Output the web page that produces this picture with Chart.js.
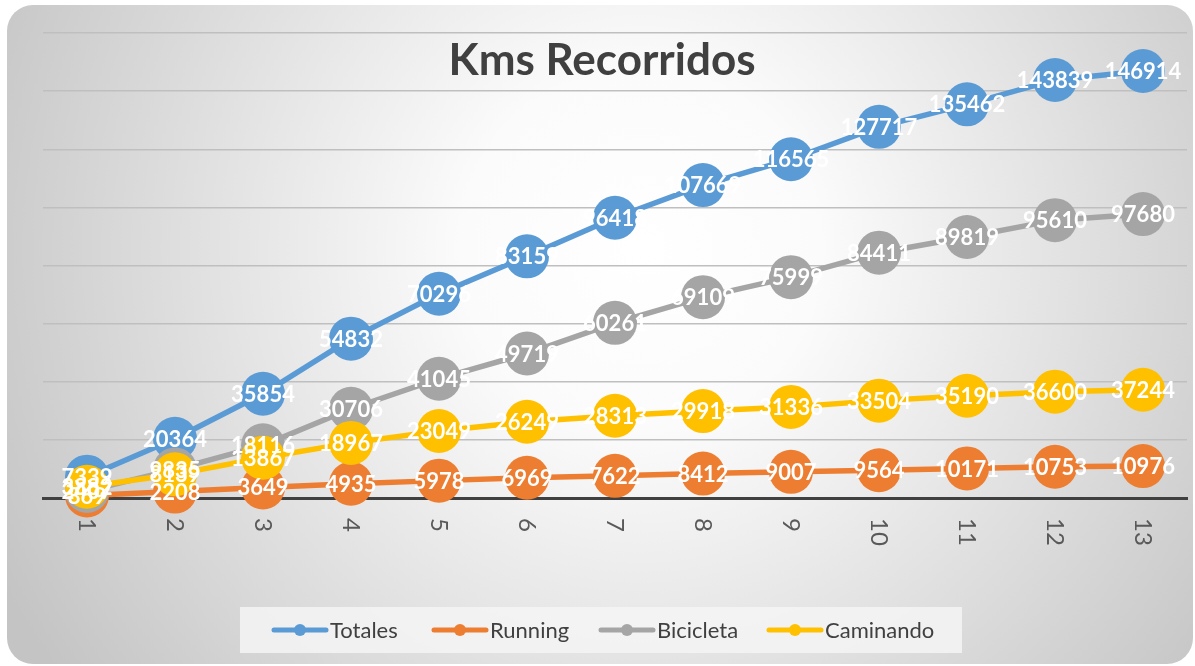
<!DOCTYPE html>
<html>
<head>
<meta charset="utf-8">
<script src="https://cdn.jsdelivr.net/npm/chart.js@4"></script>
<style>
  html, body { margin: 0; padding: 0; background: #fff; }
  #wrap { width: 1195px; height: 666px; position: relative; }
</style>
</head>
<body>
<div id="wrap"><canvas id="chart" width="1195" height="666"></canvas></div>
<script>
const labels = ["1","2","3","4","5","6","7","8","9","10","11","12","13"];
const totales   = [7339, 20364, 35854, 54832, 70296, 83159, 96418, 107669, 116565, 127717, 135462, 143839, 146914];
const running   = [869, 2208, 3649, 4935, 5978, 6969, 7622, 8412, 9007, 9564, 10171, 10753, 10976];
const bicicleta = [2407, 9835, 18116, 30706, 41045, 49719, 60261, 69109, 75999, 84411, 89819, 95610, 97680];
const caminando = [3882, 8139, 13867, 18967, 23049, 26249, 28313, 29918, 31336, 33504, 35190, 36600, 37244];
const seriesNames = ["Totales", "Running", "Bicicleta", "Caminando"];
const colors = ["#5b9bd5", "#ed7d31", "#a5a5a5", "#ffc000"];
const title = "Kms Recorridos";

// background, title, rotated tick labels, value labels and legend
const decor = {
  id: "decor",
  beforeDraw(chart) {
    const ctx = chart.ctx;
    ctx.save();
    ctx.fillStyle = "#fff";
    ctx.fillRect(0, 0, chart.width, chart.height);
    const g = ctx.createRadialGradient(640, 250, 0, 640, 250, 720);
    g.addColorStop(0, "#ffffff");
    g.addColorStop(0.25, "#fbfbfb");
    g.addColorStop(1, "#c4c4c4");
    ctx.beginPath();
    ctx.roundRect(7, 5, 1186, 659, 26);
    ctx.fillStyle = g;
    ctx.fill();
    ctx.restore();
  },
  beforeDatasetsDraw(chart) {
    const ctx = chart.ctx;
    ctx.save();
    ctx.font = "bold 44px Lato";
    ctx.fillStyle = "#404040";
    ctx.textAlign = "center";
    ctx.textBaseline = "alphabetic";
    ctx.fillText(title, 602, 75);
    // x tick labels, rotated clockwise
    const xs = chart.scales.x;
    ctx.font = "24px Lato";
    ctx.fillStyle = "#595959";
    ctx.textAlign = "left";
    ctx.textBaseline = "middle";
    xs.ticks.forEach((t, i) => {
      const x = xs.getPixelForTick(i);
      ctx.save();
      ctx.translate(x, 518);
      ctx.rotate(Math.PI / 2);
      ctx.fillText(labels[i], 0, 0);
      ctx.restore();
    });
    ctx.restore();
  },
  afterDatasetsDraw(chart) {
    const ctx = chart.ctx;
    ctx.save();
    ctx.font = "bold 22px Lato";
    ctx.fillStyle = "#fff";
    ctx.textAlign = "center";
    ctx.textBaseline = "middle";
    chart.data.datasets.forEach((ds, di) => {
      const meta = chart.getDatasetMeta(di);
      meta.data.forEach((pt, i) => {
        ctx.fillText(String(ds.data[i]), pt.x, pt.y + 1);
      });
    });
    // legend
    ctx.fillStyle = "rgba(244,244,244,0.85)";
    ctx.fillRect(240, 607, 722, 46);
    ctx.font = "22px Lato";
    ctx.textAlign = "left";
    const starts = [272, 432, 599, 767];
    chart.data.datasets.forEach((ds, di) => {
      const x0 = starts[di], y = 630;
      ctx.strokeStyle = ds.borderColor;
      ctx.lineWidth = 5;
      ctx.lineCap = "round";
      ctx.beginPath();
      ctx.moveTo(x0 + 2, y);
      ctx.lineTo(x0 + 54, y);
      ctx.stroke();
      ctx.fillStyle = ds.borderColor;
      ctx.beginPath();
      ctx.arc(x0 + 28, y, 6, 0, Math.PI * 2);
      ctx.fill();
      ctx.fillStyle = "#404040";
      ctx.fillText(ds.label, x0 + 58, y + 1);
    });
    ctx.restore();
  }
};

const seriesData = [totales, running, bicicleta, caminando];
const datasets = seriesData.map((d, i) => ({
  label: seriesNames[i],
  data: d,
  borderColor: colors[i],
  backgroundColor: colors[i],
  pointBackgroundColor: colors[i],
  pointBorderColor: colors[i],
  borderWidth: 5.5,
  pointRadius: 22,
  pointHoverRadius: 22,
  pointBorderWidth: 0,
  tension: 0,
  clip: false,
  order: 4 - i
}));

new Chart(document.getElementById("chart"), {
  type: "line",
  data: { labels: labels, datasets: datasets },
  options: {
    responsive: false,
    animation: false,
    events: [],
    layout: { autoPadding: false, padding: { left: 43, right: 8, top: 33, bottom: 160 } },
    plugins: {
      legend: { display: false },
      title: { display: false },
      tooltip: { enabled: false }
    },
    scales: {
      x: {
        offset: true,
        grid: { display: false },
        ticks: { display: false },
        border: { display: true, color: "#404040", width: 3 }
      },
      y: {
        min: 0,
        max: 160000,
        ticks: { display: false, stepSize: 20000 },
        grid: { color: "#bfbfbf", lineWidth: 1.5, drawTicks: false },
        border: { display: false }
      }
    }
  },
  plugins: [decor]
});
</script>
</body>
</html>
